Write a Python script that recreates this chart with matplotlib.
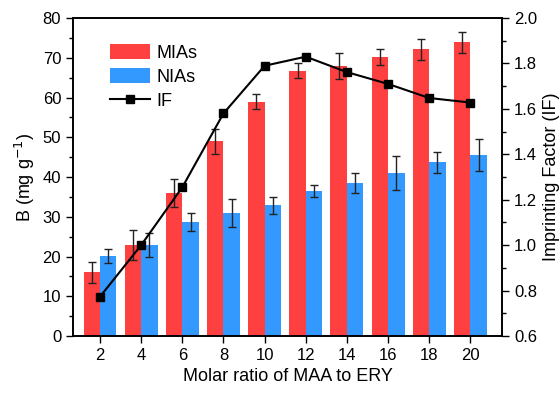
import numpy as np
import matplotlib.pyplot as plt
from matplotlib.ticker import MultipleLocator

plt.rcParams['font.family'] = ['Liberation Sans', 'DejaVu Sans']

# data
ratio = [2, 4, 6, 8, 10, 12, 14, 16, 18, 20]
mias = [16.0, 23.0, 36.0, 49.0, 59.0, 66.8, 68.0, 70.3, 72.1, 73.9]
mias_err = [2.6, 3.8, 3.5, 3.1, 2.0, 2.0, 3.3, 2.0, 2.6, 2.7]
nias = [20.2, 22.9, 28.7, 31.0, 32.9, 36.6, 38.6, 41.1, 43.7, 45.5]
nias_err = [1.8, 3.0, 2.2, 3.5, 2.1, 1.5, 2.5, 4.3, 2.6, 4.0]
IF = [0.773, 1.0, 1.255, 1.58, 1.79, 1.83, 1.762, 1.71, 1.648, 1.628]

red = '#FF4040'
blue = '#3399FF'

fig = plt.figure(figsize=(5.59, 3.93), dpi=100)
ax = fig.add_axes([0.1306, 0.145, 0.768, 0.809])
ax2 = ax.twinx()

x = np.array(ratio)
w = 0.8
b1 = ax.bar(x - w/2, mias, w, color=red, label='MIAs')
b2 = ax.bar(x + w/2, nias, w, color=blue, label='NIAs')
ax.errorbar(x - w/2, mias, yerr=mias_err, fmt='none', ecolor='#222222', elinewidth=1, capsize=3, capthick=1)
ax.errorbar(x + w/2, nias, yerr=nias_err, fmt='none', ecolor='#222222', elinewidth=1, capsize=3, capthick=1)

l1, = ax2.plot(x, IF, color='black', lw=1.5, marker='s', ms=6, label='IF')

ax.set_xlim(0.69, 21.55)
ax.set_ylim(0, 80)
ax2.set_ylim(0.6, 2.0)
ax.set_xticks(ratio)
ax.yaxis.set_major_locator(MultipleLocator(10))
ax.yaxis.set_minor_locator(MultipleLocator(5))
ax2.yaxis.set_minor_locator(MultipleLocator(0.1))
ax2.set_yticks(np.arange(0.6, 2.01, 0.2))
ax2.set_yticklabels(['%.1f' % v for v in np.arange(0.6, 2.01, 0.2)])

ax.tick_params(axis='both', which='major', direction='out', length=5, width=1, labelsize=12)
ax.tick_params(axis='y', which='minor', direction='out', length=3, width=1)
ax2.tick_params(axis='y', which='major', direction='out', length=5, width=1, labelsize=12)
ax2.tick_params(axis='y', which='minor', direction='out', length=3, width=1)

for a in (ax, ax2):
    for s in a.spines.values():
        s.set_linewidth(1.2)

ax.set_xlabel('Molar ratio of MAA to ERY', fontsize=13)
ax.set_ylabel('B (mg g$^{-1}$)', fontsize=13)
ax2.set_ylabel('Imprinting Factor (IF)', fontsize=13)

ax2.legend([b1, b2, l1], ['MIAs', 'NIAs', 'IF'], loc='upper left', bbox_to_anchor=(0.078, 0.93),
           frameon=False, fontsize=13, handlelength=2.2, handleheight=0.9, labelspacing=0.35,
           handletextpad=0.35, borderpad=0.2, borderaxespad=0)

fig.savefig('out.png', dpi=100)
